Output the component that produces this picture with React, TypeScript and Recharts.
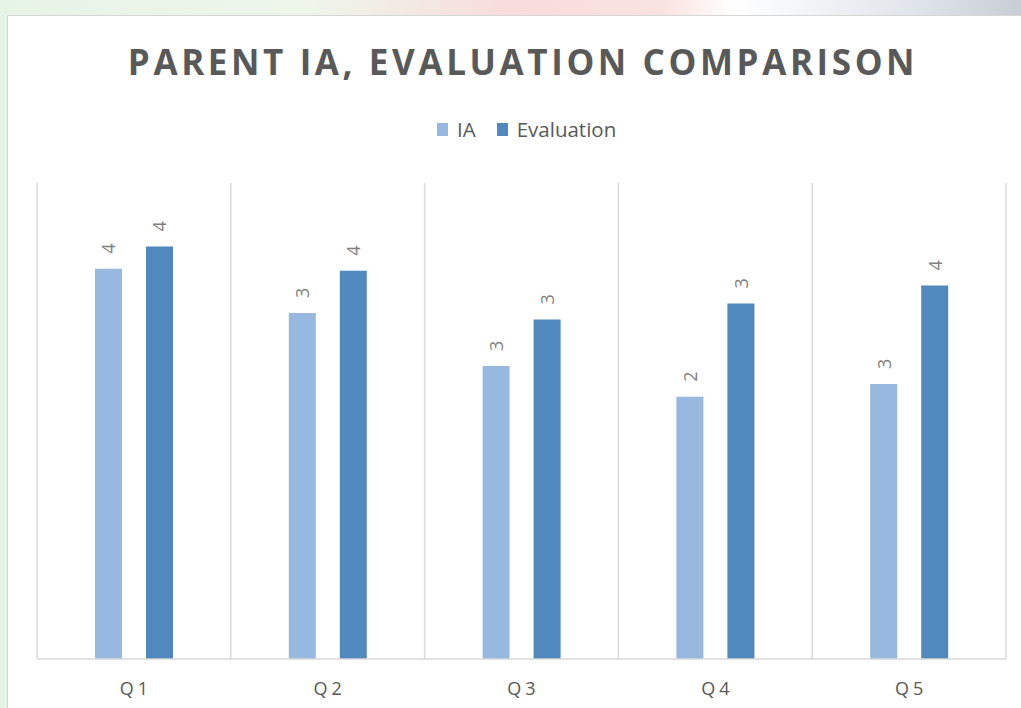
import React from "react";
import { BarChart, Bar, XAxis, YAxis, CartesianGrid, LabelList } from "recharts";

const questions = ["Q1", "Q2", "Q3", "Q4", "Q5"];
const iaScores = [3.69, 3.27, 2.77, 2.48, 2.6];
const evaluationScores = [3.9, 3.67, 3.21, 3.36, 3.53];

const seriesNames = ["IA", "Evaluation"];
const seriesColors = ["#97b9e0", "#4f89bd"];

const data = questions.map((q, i) => ({
  name: q,
  IA: iaScores[i],
  Evaluation: evaluationScores[i],
}));

const FONT = "'Open Sans', 'Noto Sans', sans-serif";

// rotated value label sitting just above each bar
const RotatedLabel = (props: any) => {
  const { x, y, width, value } = props;
  const cx = x + width / 2;
  const ty = y - 15;
  return (
    <text
      x={cx}
      y={ty}
      transform={`rotate(-90 ${cx} ${ty})`}
      textAnchor="start"
      dominantBaseline="central"
      fill="#808080"
      fontSize={18}
      fontFamily={FONT}
    >
      {Math.round(value)}
    </text>
  );
};

export default function App() {
  return (
    <div
      style={{
        position: "absolute",
        left: 0,
        top: 0,
        width: 1021,
        height: 708,
        overflow: "hidden",
        background:
          "linear-gradient(90deg, #e6f4e6 0%, #eef6ea 30%, #f7dcdc 50%, #f9e3e0 65%, #ffffff 72%, #dfe4ea 90%, #c9ced6 100%)",
        fontFamily: FONT,
      }}
    >
      <div
        style={{
          position: "absolute",
          left: 7,
          top: 15,
          width: 1030,
          height: 710,
          background: "#ffffff",
          border: "1px solid #d6d6d6",
        }}
      />
      <div
        style={{
          position: "absolute",
          left: 7,
          right: 0,
          top: 38,
          textAlign: "center",
          fontSize: 35,
          fontWeight: 700,
          letterSpacing: 3.6,
          color: "#595959",
          paddingLeft: 18,
        }}
      >
        PARENT IA, EVALUATION COMPARISON
      </div>
      <div
        style={{
          position: "absolute",
          left: 437,
          top: 115,
          display: "flex",
          alignItems: "center",
          fontSize: 20.5,
          color: "#595959",
        }}
      >
        {seriesNames.map((n, i) => (
          <div key={n} style={{ display: "flex", alignItems: "center", marginRight: 21 }}>
            <span
              style={{
                display: "inline-block",
                width: 11,
                height: 13,
                background: seriesColors[i],
                marginRight: 9,
              }}
            />
            <span>{n}</span>
          </div>
        ))}
      </div>
      <div style={{ position: "absolute", left: 0, top: 0 }}>
        <BarChart
          width={1021}
          height={708}
          data={data}
          margin={{ top: 183, right: 15, bottom: 0, left: 37 }}
          barSize={27}
          barGap={24}
        >
          <CartesianGrid
            horizontal={false}
            stroke="#d9d9d9"
            strokeWidth={1.5}
            verticalCoordinatesGenerator={({ offset }: any) =>
              questions.map((_, i) => offset.left + (i * offset.width) / questions.length).concat([
                offset.left + offset.width,
              ])
            }
          />
          <XAxis
            dataKey="name"
            height={49}
            axisLine={{ stroke: "#d9d9d9", strokeWidth: 1.5 }}
            tickLine={false}
            tick={{ fill: "#595959", fontSize: 18, letterSpacing: 4, fontFamily: FONT, dx: 2 }}
            tickMargin={17}
          />
          <YAxis hide domain={[0, 4.5]} />
          {seriesNames.map((n, i) => (
            <Bar key={n} dataKey={n} fill={seriesColors[i]} isAnimationActive={false}>
              <LabelList dataKey={n} content={RotatedLabel} />
            </Bar>
          ))}
        </BarChart>
      </div>
    </div>
  );
}
